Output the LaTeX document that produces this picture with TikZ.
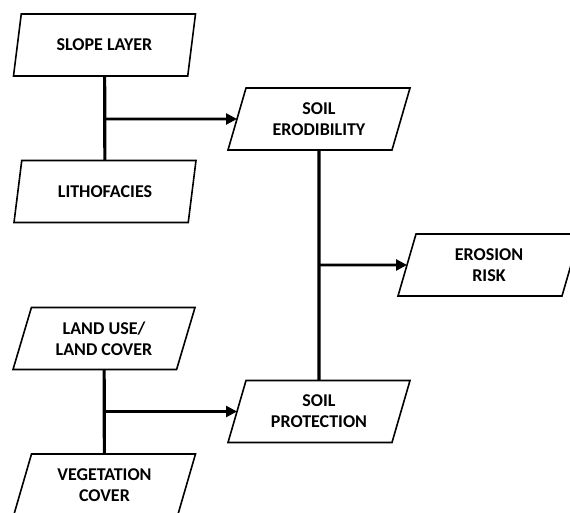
\documentclass[tikz,border=0pt]{standalone}
\usepackage{fontspec}
\setmainfont{Carlito}
\usetikzlibrary{shapes.geometric,arrows.meta}
\begin{document}
\begin{tikzpicture}[x=1pt,y=-1pt,
  box/.style={draw, line width=1.6pt, trapezium, trapezium left angle=64, trapezium right angle=116,
    trapezium stretches body, minimum width=182pt, minimum height=62pt, inner sep=2pt,
    align=center, font=\fontsize{18}{21}\selectfont\bfseries, outer sep=0pt},
  conn/.style={line width=3.2pt},
  arr/.style={line width=2.6pt, -{Triangle[length=11pt,width=11pt]}}]
\useasboundingbox (0,0) rectangle (570,513);
\clip (0,0) rectangle (570,513);
\node[box] (slope) at (104.5,45) {SLOPE LAYER};
\node[box] (litho) at (105,191.5) {LITHOFACIES};
\node[box] (ero) at (319,119) {SOIL\\ERODIBILITY};
\node[box] (risk) at (489,265) {EROSION\\RISK};
\node[box] (land) at (104,338.5) {LAND USE/\\LAND COVER};
\node[box] (prot) at (319,411.5) {SOIL\\PROTECTION};
\node[box] (veg) at (104.5,485) {VEGETATION\\COVER};
\coordinate (j1) at (104,119);
\coordinate (j2) at (319,265);
\coordinate (j3) at (104,411.5);
\draw[conn] (slope) -- (litho);
\draw[conn] (land) -- (veg);
\draw[conn] (ero) -- (prot);
\draw[arr] (j1) -- (ero);
\draw[arr] (j2) -- (risk);
\draw[arr] (j3) -- (prot);
\end{tikzpicture}
\end{document}
